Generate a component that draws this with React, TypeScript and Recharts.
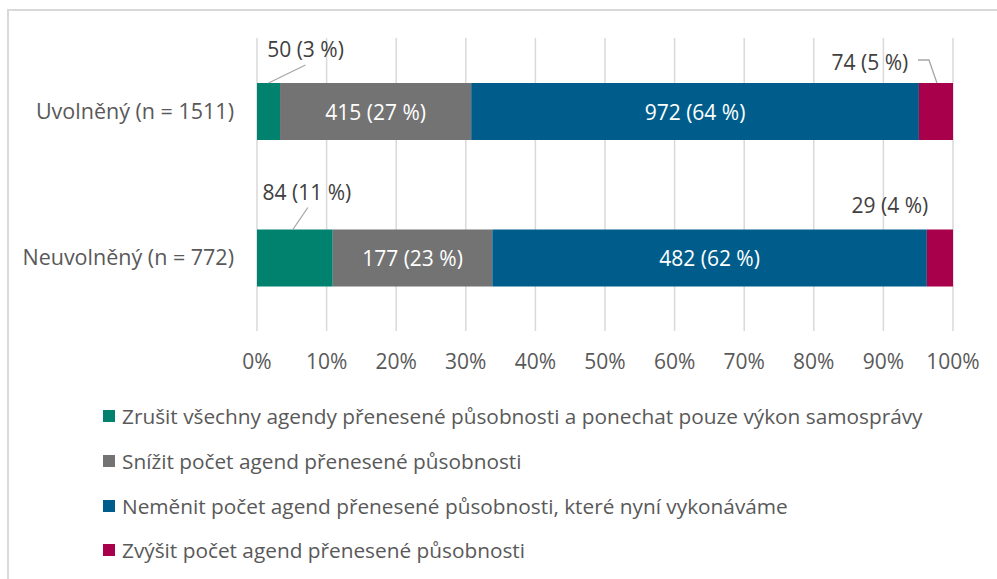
import { Bar, BarChart, CartesianGrid, LabelList, XAxis, YAxis } from "recharts";

const categories = ["Uvolněný (n = 1511)", "Neuvolněný (n = 772)"];
const zrusit = [50, 84];
const snizit = [415, 177];
const nemenit = [972, 482];
const zvysit = [74, 29];
const xTicks = [0, 0.1, 0.2, 0.3, 0.4, 0.5, 0.6, 0.7, 0.8, 0.9, 1];

const seriesNames = [
  "Zrušit všechny agendy přenesené působnosti a ponechat pouze výkon samosprávy",
  "Snížit počet agend přenesené působnosti",
  "Neměnit počet agend přenesené působnosti, které nyní vykonáváme",
  "Zvýšit počet agend přenesené působnosti",
];
const seriesValues = [zrusit, snizit, nemenit, zvysit];
const seriesKeys = ["zrusit", "snizit", "nemenit", "zvysit"];
const colors = ["#00826F", "#737373", "#005D8B", "#A8004A"];

const totals = categories.map((_, i) => seriesValues.reduce((s, arr) => s + arr[i], 0));

const chartData = categories.map((name, i) => ({
  name,
  zrusit: zrusit[i],
  snizit: snizit[i],
  nemenit: nemenit[i],
  zvysit: zvysit[i],
}));

const FONT = "'Open Sans', sans-serif";
const TEXT = "#595959";

// where the outside labels sit, relative to the segment (center x, top y)
const outside: Record<string, any[]> = {
  zrusit: [
    { dx: 37, dy: -34, line: [[0, 0], [37, -18]] },
    { dx: 12, dy: -38, line: [[-2, 0], [13, -22]] },
  ],
  zvysit: [
    { dx: -66, dy: -21, line: [[-18, -23], [-7, -23], [1, 0]] },
    { dx: -50, dy: -25, line: null },
  ],
};

function makeLabel(key: string, s: number) {
  return (props: any) => {
    const { x, y, width, height, index } = props;
    const v = seriesValues[s][index];
    const pct = Math.round((v / totals[index]) * 100);
    const text = `${v} (${pct} %)`;
    const cx = x + width / 2;
    const o = outside[key]?.[index];
    if (o) {
      return (
        <g>
          {o.line && (
            <polyline
              points={o.line.map((p: number[]) => `${cx + p[0]},${y + p[1]}`).join(" ")}
              fill="none"
              stroke="#A6A6A6"
              strokeWidth={1.3}
            />
          )}
          <text
            x={cx + o.dx}
            y={y + o.dy}
            textAnchor="middle"
            dominantBaseline="central"
            fill="#404040"
            fontSize={21}
            fontFamily={FONT}
          >
            {text}
          </text>
        </g>
      );
    }
    return (
      <text
        x={cx}
        y={y + height / 2}
        textAnchor="middle"
        dominantBaseline="central"
        fill="#FFFFFF"
        fontSize={21}
        fontFamily={FONT}
      >
        {text}
      </text>
    );
  };
}

export default function App() {
  return (
    <div style={{ position: "absolute", left: 0, top: 0, width: 997, height: 579, background: "#fff" }}>
      <div
        style={{
          position: "absolute",
          left: 7,
          top: 9,
          right: 0,
          bottom: 0,
          borderLeft: "2px solid #D9D9D9",
          borderTop: "2px solid #D9D9D9",
        }}
      />
      <div style={{ position: "absolute", left: 0, top: 0 }}>
        <BarChart
          width={997}
          height={579}
          data={chartData}
          layout="vertical"
          stackOffset="expand"
          margin={{ top: 38, right: 44, bottom: 218, left: 0 }}
        >
          <CartesianGrid horizontal={false} stroke="#D9D9D9" strokeWidth={1.5} />
          <XAxis
            type="number"
            domain={[0, 1]}
            ticks={xTicks}
            tickFormatter={(v: number) => `${Math.round(v * 100)}%`}
            axisLine={false}
            tickLine={false}
            tickSize={0}
            tickMargin={23}
            height={30}
            tick={{ fill: TEXT, fontSize: 21, fontFamily: FONT }}
            interval={0}
          />
          <YAxis
            type="category"
            dataKey="name"
            width={257}
            axisLine={false}
            tickLine={false}
            tickSize={0}
            tickMargin={23}
            tick={{ fill: TEXT, fontSize: 21.5, fontFamily: FONT }}
          />
          {seriesKeys.map((k, s) => (
            <Bar key={k} dataKey={k} stackId="a" fill={colors[s]} barSize={57} isAnimationActive={false}>
              <LabelList dataKey={k} content={makeLabel(k, s)} />
            </Bar>
          ))}
        </BarChart>
      </div>
      <div style={{ position: "absolute", left: 103, top: 394, fontFamily: FONT, fontSize: 20.8, color: TEXT }}>
        {seriesNames.map((n, i) => (
          <div key={n} style={{ display: "flex", alignItems: "center", height: 44.7 }}>
            <span style={{ width: 12, height: 12, background: colors[i], marginRight: 7, display: "inline-block", flexShrink: 0 }} />
            <span style={{ whiteSpace: "nowrap" }}>{n}</span>
          </div>
        ))}
      </div>
    </div>
  );
}
